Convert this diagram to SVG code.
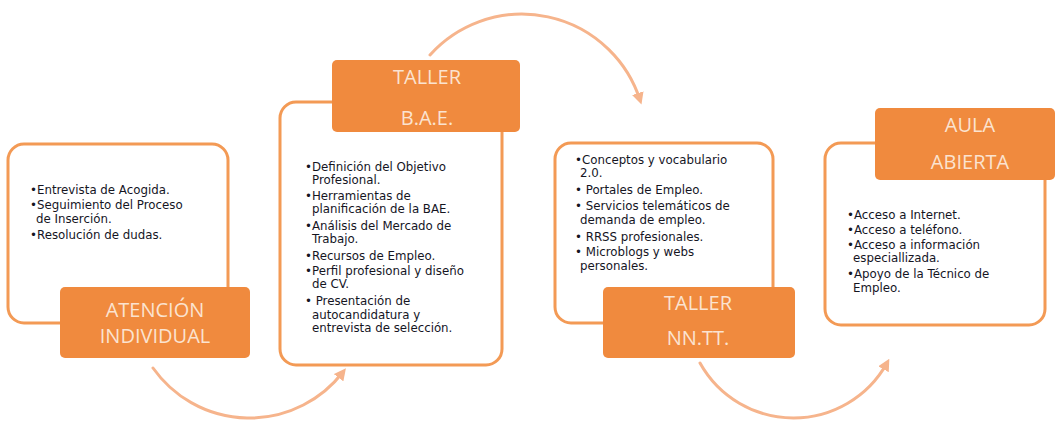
<svg xmlns="http://www.w3.org/2000/svg" width="1055" height="421" viewBox="0 0 1055 421">
<style>
.card{fill:#ffffff;stroke:#f39a55;stroke-width:3}
.head{fill:#f08a3e}
.ht{font-family:"Open Sans",sans-serif;font-size:20px;fill:#fbe3d0;text-anchor:middle}
.bt{font-family:"DejaVu Sans",sans-serif;font-size:11.8px;fill:#15151f}
.arc{fill:none;stroke:#f6b48c;stroke-width:3;stroke-linecap:round}
</style>
<defs>
<marker id="ah" viewBox="0 0 10 10" refX="6" refY="5" markerWidth="4" markerHeight="4" orient="auto" markerUnits="strokeWidth">
<path d="M0,0 L10,5 L0,10 z" fill="#f6b48c"/>
</marker>
</defs>
<rect width="1055" height="421" fill="#ffffff"/>
<g id="connectors">
<path class="arc" d="M153,368 A118,118 0 0 0 343,372" marker-end="url(#ah)"/>
<path class="arc" d="M430,55 A124,124 0 0 1 640,100" marker-end="url(#ah)"/>
<path class="arc" d="M700,363 A107,107 0 0 0 887,363" marker-end="url(#ah)"/>
</g>
<g id="node-atencion">
<rect class="card" x="8" y="144" width="220" height="179" rx="16"/>
<text class="bt" x="30" y="194">•Entrevista de Acogida.</text>
<text class="bt" x="30" y="209">•Seguimiento del Proceso</text>
<text class="bt" x="36" y="223">de Inserción.</text>
<text class="bt" x="30" y="239">•Resolución de dudas.</text>
<rect class="head" x="60" y="287" width="190" height="71" rx="5"/>
<text class="ht" x="155" y="317">ATENCIÓN</text>
<text class="ht" x="155" y="343">INDIVIDUAL</text>
</g>
<g id="node-bae">
<rect class="card" x="280" y="102" width="222" height="263" rx="16"/>
<rect class="head" x="332" y="60" width="188" height="72" rx="5"/>
<text class="ht" x="427" y="84">TALLER</text>
<text class="ht" x="427" y="125">B.A.E.</text>
<text class="bt" x="305" y="171">•Definición del Objetivo</text>
<text class="bt" x="312" y="184">Profesional.</text>
<text class="bt" x="305" y="200">•Herramientas de</text>
<text class="bt" x="312" y="213">planificación de la BAE.</text>
<text class="bt" x="305" y="230">•Análisis del Mercado de</text>
<text class="bt" x="312" y="243">Trabajo.</text>
<text class="bt" x="305" y="260">•Recursos de Empleo.</text>
<text class="bt" x="305" y="275">•Perfil profesional y diseño</text>
<text class="bt" x="312" y="288">de CV.</text>
<text class="bt" x="305" y="305">• Presentación de</text>
<text class="bt" x="312" y="319">autocandidatura y</text>
<text class="bt" x="312" y="332">entrevista de selección.</text>
</g>
<g id="node-nntt">
<rect class="card" x="555" y="143" width="218" height="180" rx="16"/>
<text class="bt" x="575" y="164">•Conceptos y vocabulario</text>
<text class="bt" x="580" y="177">2.0.</text>
<text class="bt" x="575" y="194">• Portales de Empleo.</text>
<text class="bt" x="575" y="210">• Servicios telemáticos de</text>
<text class="bt" x="580" y="224">demanda de empleo.</text>
<text class="bt" x="575" y="241">• RRSS profesionales.</text>
<text class="bt" x="575" y="256">• Microblogs y webs</text>
<text class="bt" x="580" y="270">personales.</text>
<rect class="head" x="603" y="287" width="192" height="71" rx="5"/>
<text class="ht" x="698" y="310">TALLER</text>
<text class="ht" x="698" y="345">NN.TT.</text>
</g>
<g id="node-aula">
<rect class="card" x="825" y="143" width="220" height="182" rx="16"/>
<rect class="head" x="875" y="108" width="180" height="72" rx="5"/>
<text class="ht" x="970" y="132">AULA</text>
<text class="ht" x="970" y="169">ABIERTA</text>
<text class="bt" x="847" y="219">•Acceso a Internet.</text>
<text class="bt" x="847" y="234">•Acceso a teléfono.</text>
<text class="bt" x="847" y="249">•Acceso a información</text>
<text class="bt" x="853" y="262">especiallizada.</text>
<text class="bt" x="847" y="278">•Apoyo de la Técnico de</text>
<text class="bt" x="853" y="292">Empleo.</text>
</g>
</svg>
